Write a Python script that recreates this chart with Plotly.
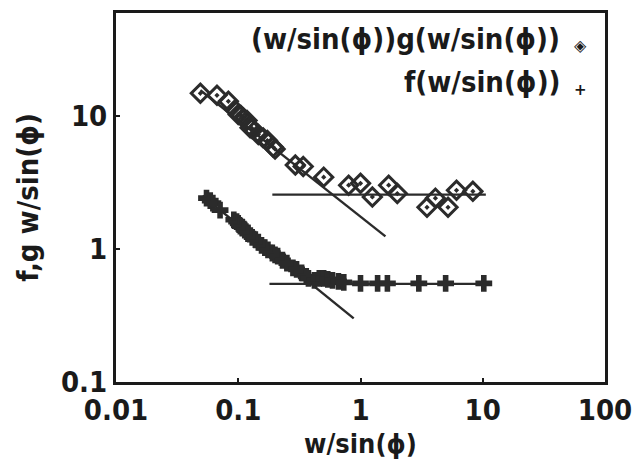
import plotly.graph_objects as go

# Upper series: (w/sin(phi)) g(w/sin(phi))
upper_x = [0.049, 0.067, 0.083, 0.094, 0.1, 0.105, 0.11, 0.118, 0.125, 0.13, 0.146, 0.16, 0.173,
           0.193, 0.2, 0.293, 0.34, 0.5, 0.8, 1.0, 1.25, 1.7, 2.0, 3.5, 4.1, 5.2, 6.1, 8.3]
upper_y = [14.7, 14.2, 12.8, 11.0, 10.2, 10.0, 9.6, 9.2, 8.1, 8.0, 7.2, 6.8, 6.5,
           5.8, 5.6, 4.25, 4.15, 3.45, 3.0, 3.1, 2.45, 3.0, 2.6, 2.05, 2.4, 2.05, 2.75, 2.7]

# Lower series: f(w/sin(phi))
lower_x = [0.055, 0.059, 0.062, 0.071, 0.092, 0.097, 0.1, 0.104, 0.108, 0.113, 0.12, 0.13, 0.138,
           0.146, 0.155, 0.165, 0.175, 0.19, 0.2, 0.21, 0.23, 0.25, 0.28, 0.3, 0.33, 0.36, 0.375,
           0.42, 0.46, 0.5, 0.54, 0.59, 0.66, 0.73, 1.0, 1.38, 1.66, 3.0, 4.97, 10.2]
lower_y = [2.4, 2.3, 2.2, 1.95, 1.65, 1.6, 1.55, 1.48, 1.45, 1.38, 1.3, 1.22, 1.17,
           1.12, 1.06, 1.02, 0.98, 0.93, 0.9, 0.88, 0.82, 0.78, 0.72, 0.7, 0.66, 0.62, 0.6,
           0.58, 0.6, 0.6, 0.59, 0.58, 0.57, 0.56, 0.55, 0.55, 0.55, 0.55, 0.55, 0.55]

# Fit lines (endpoints)
upper_slope_x = [0.049, 1.6]
upper_slope_y = [15.5, 1.24]
upper_flat_x = [0.19, 10.6]
upper_flat_y = [2.55, 2.55]
lower_slope_x = [0.051, 0.88]
lower_slope_y = [2.5, 0.3]
lower_flat_x = [0.18, 11.0]
lower_flat_y = [0.545, 0.545]

x_ticks = [0.01, 0.1, 1, 10, 100]
x_tick_labels = ["0.01", "0.1", "1", "10", "100"]
y_ticks = [0.1, 1, 10]
y_tick_labels = ["0.1", "1", "10"]

INK = "#2b2b2b"
TXT = "#1a1a1a"
FONT = "DejaVu Sans Condensed, DejaVu Sans, sans-serif"

fig = go.Figure()
for xs, ys in [(upper_slope_x, upper_slope_y), (upper_flat_x, upper_flat_y),
               (lower_slope_x, lower_slope_y), (lower_flat_x, lower_flat_y)]:
    fig.add_trace(go.Scatter(x=xs, y=ys, mode="lines",
                             line=dict(color=INK, width=2.4), showlegend=False))

fig.add_trace(go.Scatter(x=upper_x, y=upper_y, mode="markers",
                         marker=dict(symbol="diamond-open-dot", size=14, color=INK,
                                     line=dict(width=3, color=INK)),
                         showlegend=False))
fig.add_trace(go.Scatter(x=lower_x, y=lower_y, mode="markers",
                         marker=dict(symbol="cross", size=14, color=INK,
                                     line=dict(width=0)),
                         showlegend=False))

axis_common = dict(type="log", showline=True, linewidth=3, linecolor=TXT, mirror=True,
                   ticks="inside", ticklen=4, tickwidth=2, tickcolor=TXT,
                   showgrid=False, zeroline=False, ticklabelstandoff=0,
                   tickfont=dict(family=FONT, size=29, color=TXT, weight="bold"))

fig.update_xaxes(range=[-2, 2], tickvals=x_ticks, ticktext=x_tick_labels, **axis_common)
fig.update_yaxes(range=[-1, 1.77], tickvals=y_ticks, ticktext=y_tick_labels,
                 title=dict(text="f,g w/sin(ϕ)", font=dict(family=FONT, size=29, color=TXT, weight="bold"),
                            standoff=14),
                 **axis_common)

# x-axis title placed as paper text so it sits just below the tick labels
fig.add_annotation(x=0.5, y=-0.166, xref="paper", yref="paper", xanchor="center", yanchor="middle",
                   text="w/sin(ϕ)", showarrow=False,
                   font=dict(family=FONT, size=27, color=TXT, weight="bold"))

fig.add_annotation(x=0.912, y=0.93, xref="paper", yref="paper", xanchor="right", yanchor="middle",
                   text="(w/sin(ϕ))g(w/sin(ϕ))", showarrow=False,
                   font=dict(family=FONT, size=29, color=TXT, weight="bold"))
fig.add_annotation(x=0.912, y=0.812, xref="paper", yref="paper", xanchor="right", yanchor="middle",
                   text="f(w/sin(ϕ))", showarrow=False,
                   font=dict(family=FONT, size=29, color=TXT, weight="bold"))
fig.add_annotation(x=0.949, y=0.912, xref="paper", yref="paper", xanchor="center", yanchor="middle",
                   text="◈", showarrow=False,
                   font=dict(family="DejaVu Sans", size=16, color=TXT, weight="bold"))
fig.add_annotation(x=0.949, y=0.79, xref="paper", yref="paper", xanchor="center", yanchor="middle",
                   text="+", showarrow=False,
                   font=dict(family="DejaVu Sans", size=15, color=TXT, weight="bold"))

# Page has an 8px body margin; the figure is offset by it inside the 640x462 window.
fig.update_layout(width=632, height=454,
                  margin=dict(l=108, r=35, t=2, b=80),
                  paper_bgcolor="white", plot_bgcolor="white",
                  font=dict(family=FONT, color=TXT))

fig.write_html("out.html")
